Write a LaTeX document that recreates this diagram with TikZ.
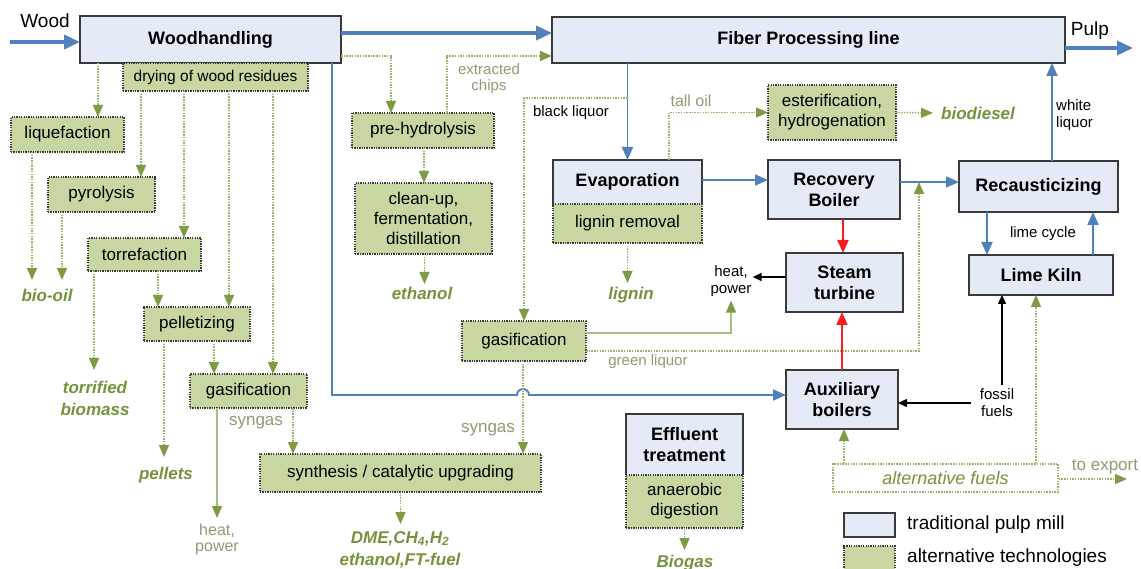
\documentclass[tikz,border=0pt]{standalone}
\usepackage{fontspec}
\setmainfont{Liberation Sans}
\usetikzlibrary{arrows.meta,calc}
\definecolor{tradfill}{HTML}{E4EAF6}
\definecolor{altfill}{HTML}{C8D7A2}
\definecolor{boxdraw}{HTML}{3A3A3A}
\definecolor{lineblue}{HTML}{4F81BD}
\definecolor{altline}{HTML}{9CB16C}
\definecolor{alttip}{HTML}{7F9A45}
\definecolor{prodgreen}{HTML}{76923C}
\definecolor{lblgreen}{HTML}{8F9B74}
\definecolor{solidgreen}{HTML}{A7BD82}
\definecolor{redline}{HTML}{F51E1E}
\tikzset{
  sz/.style 2 args={minimum width=#1pt,minimum height=#2pt},
  trad/.style={draw=boxdraw,line width=1.3pt,fill=tradfill,inner sep=0pt,outer sep=0pt,align=center,font=\fontsize{18}{21}\selectfont\bfseries},
  tradnd/.style={fill=tradfill,inner sep=0pt,outer sep=0pt,align=center,font=\fontsize{18}{21}\selectfont\bfseries},
  alt/.style={draw=boxdraw,line width=1.3pt,dash pattern=on 1.3pt off 1.1pt,fill=altfill,inner sep=0pt,outer sep=0pt,align=center,font=\fontsize{17}{20}\selectfont},
  lbl/.style={font=\fontsize{15}{16}\selectfont,text=lblgreen,inner sep=1pt,align=center},
  lblbig/.style={lbl,font=\fontsize{17}{18}\selectfont},
  blk/.style={font=\fontsize{15}{17}\selectfont,text=black,inner sep=1pt,align=center},
  prod/.style={font=\fontsize{17}{22}\selectfont\bfseries\itshape,text=prodgreen,inner xsep=1pt,align=center,anchor=north},
  mainarr/.style={draw=lineblue,line width=3.6pt,-{Triangle[length=16pt,width=14pt]}},
  bluearr/.style={draw=lineblue,line width=1.9pt,-{Triangle[length=13pt,width=11pt]}},
  redarr/.style={draw=redline,line width=1.9pt,-{Triangle[length=13pt,width=11pt]}},
  blkarr/.style={draw=black,line width=1.4pt,-{Triangle[length=9pt,width=8pt]}},
  altarr/.style={draw=altline,line width=1.5pt,dash pattern=on 1.5pt off 1.2pt,-{Triangle[length=12pt,width=10pt,fill=alttip,color=alttip]}},
  solarr/.style={draw=solidgreen,line width=1.7pt,-{Triangle[length=12pt,width=10pt,fill=alttip,color=alttip]}},
}
\begin{document}
\begin{tikzpicture}[x=1pt,y=-1pt]
\useasboundingbox (0,0) rectangle (1141,569);
\fill[white] (0,0) rectangle (1141,569);

% ---------- traditional boxes ----------
\node[trad,sz={261}{47}] (wh) at (210.5,39.5) {Woodhandling};
\node[trad,sz={513}{46}] (fib) at (808.5,40) {Fiber Processing line};
\node[tradnd,sz={149}{44}] (evap) at (627.5,182) {Evaporation};
\draw[boxdraw,line width=1.3pt] (evap.south west) -- (evap.north west) -- (evap.north east) -- (evap.south east);
\node[trad,sz={132}{59}] (rec) at (834,189.5) {Recovery\\Boiler};
\node[trad,sz={117}{59}] (stm) at (844.5,282.5) {Steam\\turbine};
\node[trad,sz={159}{51}] (rcs) at (1038.5,186.5) {Recausticizing};
\node[trad,sz={144}{40}] (lk) at (1041,275) {Lime Kiln};
\node[trad,sz={112}{59}] (aux) at (842,399.5) {Auxiliary\\boilers};
\node[tradnd,sz={117}{61}] (eff) at (684.5,444.5) {Effluent\\treatment};
\draw[boxdraw,line width=1.3pt] (eff.south west) -- (eff.north west) -- (eff.north east) -- (eff.south east);

% ---------- alternative boxes ----------
\node[alt,sz={185}{28},font=\fontsize{15.5}{17}\selectfont] (dry) at (215.5,77) {drying of wood residues};
\node[alt,sz={113}{35}] (liq) at (67.5,134.5) {liquefaction};
\node[alt,sz={107}{35}] (pyr) at (101.5,194.5) {pyrolysis};
\node[alt,sz={113}{33}] (tor) at (144.5,254.5) {torrefaction};
\node[alt,sz={106}{34}] (pel) at (197,324) {pelletizing};
\node[alt,sz={117}{34}] (gasL) at (248.5,391) {gasification};
\node[alt,sz={281}{38}] (syn) at (400.5,473) {synthesis / catalytic upgrading};
\node[alt,sz={142}{35}] (pre) at (423,130.5) {pre-hydrolysis};
\node[alt,sz={137}{71}] (cln) at (423.5,218.5) {clean-up,\\fermentation,\\distillation};
\node[alt,sz={124}{40}] (gasC) at (524,341) {gasification};
\node[alt,sz={149}{39}] (lig) at (627.5,223.5) {lignin removal};
\node[alt,sz={128}{55}] (est) at (832,112.5) {esterification,\\hydrogenation};
\node[alt,sz={117}{53}] (ana) at (684.5,501.5) {anaerobic\\digestion};
\node[draw=altline,line width=1.4pt,dash pattern=on 1.5pt off 1.2pt,fill=white,inner sep=0pt,sz={225}{28},font=\fontsize{18}{20}\selectfont\itshape,text=prodgreen] (alt) at (945.5,478) {alternative fuels};

% ---------- legend ----------
\node[trad,sz={51}{24}] (legT) at (869.5,525) {};
\node[alt,sz={51}{24}] (legA) at (869.5,558) {};
\node[anchor=west,font=\fontsize{19}{21}\selectfont,inner sep=0pt] (legTt) at (907,525) {traditional pulp mill};
\node[anchor=west,font=\fontsize{19}{21}\selectfont,inner sep=0pt] (legAt) at (907,558) {alternative technologies};

% ---------- texts ----------
\node[font=\fontsize{19}{21}\selectfont,inner sep=0pt] (woodt) at (45,21) {Wood};
\node[font=\fontsize{19}{21}\selectfont,inner sep=0pt] (pulpt) at (1090,31) {Pulp};
\node[lbl] (chips) at (489,79) {extracted\\chips};
\node[blk] (blqt) at (571,113) {black liquor};
\node[lbl,font=\fontsize{16}{17}\selectfont] (tall) at (691,101) {tall oil};
\node[prod,anchor=west] (biod) at (940,113) {biodiesel};
\node[blk,anchor=west,align=left] (wliq) at (1055,115) {white\\liquor};
\node[blk] (lcyc) at (1043,234) {lime cycle};
\node[blk] (heatC) at (731,281) {heat,\\power};
\node[blk] (fossil) at (997,403) {fossil\\fuels};
\node[lblbig] (export) at (1105,467) {to export};
\node[lblbig] (synL) at (256,423) {syngas};
\node[lblbig] (synC) at (488,430) {syngas};
\node[lbl] (gliq) at (648,362) {green liquor};

\node[prod,inner ysep=9pt] (bio) at (47,280) {bio-oil};
\node[prod,inner ysep=11pt] (torb) at (95,370) {torrified\\biomass};
\node[prod,inner ysep=10pt] (pell) at (166,457) {pellets};
\node[lbl,font=\fontsize{16}{16}\selectfont,anchor=north,inner ysep=6pt] (heatL) at (217,518) {heat,\\power};
\node[prod,inner ysep=3pt] (eth) at (422,284) {ethanol};
\node[prod,inner ysep=4pt] (lign) at (631,283) {lignin};
\node[prod,inner ysep=7pt] (dme) at (400,524) {DME,CH\textsubscript{4},H\textsubscript{2}\\ethanol,FT-fuel};
\node[prod,inner ysep=5pt] (biog) at (685,550) {Biogas};

% ---------- coordinates ----------
\coordinate (woodin) at (10,42);
\coordinate (pulpout) at (1133,48);
\coordinate (blq) at (627.5,98);
\coordinate (gl) at (919,182);
\coordinate (hopc) at (523,395);
\coordinate (exp) at (1127,479);

% ---------- blue main flows ----------
\draw[mainarr] (woodin) -- ([yshift=-2.5pt]wh.west);
\draw[mainarr] ([yshift=6.5pt]wh.east) -- ([yshift=6.5pt]wh.east -| fib.west);
\draw[mainarr] ([yshift=-8pt]fib.east) -- (pulpout);
\draw[bluearr] (evap.north |- fib.south) -- (evap.north);
\draw[bluearr] ([yshift=2pt]evap.east) -- ([yshift=2pt]evap.east -| rec.west);
\draw[bluearr] ([yshift=7.5pt]rec.east) -- ([yshift=7.5pt]rec.east -| rcs.west);
\draw[bluearr] ([xshift=13.5pt]rcs.north) -- ([xshift=13.5pt]rcs.north |- fib.south);
\draw[bluearr] ([xshift=-51.5pt]rcs.south) -- ([xshift=-51.5pt]rcs.south |- lk.north);
\draw[bluearr] ([xshift=52pt]lk.north) -- ([xshift=52pt]lk.north |- rcs.south);
\draw[bluearr] ([xshift=121.5pt]wh.south) |- ([xshift=-6pt]hopc) arc[start angle=180,end angle=0,radius=6pt] -- ([yshift=4.5pt]aux.west);

% ---------- red steam ----------
\draw[redarr] ([xshift=9pt]rec.south) -- ([xshift=9pt]rec.south |- stm.north);
\draw[redarr] (aux.north) -- (aux.north |- stm.south);

% ---------- black ----------
\draw[blkarr] ([yshift=5.5pt]stm.west) -- ([yshift=5.5pt]stm.west -| heatC.east);
\draw[blkarr,shorten <=8pt] (fossil.west) -- (fossil.west -| aux.east);
\draw[blkarr,shorten <=3pt] ([xshift=5pt]fossil.north) -- ([xshift=5pt]fossil.north |- lk.south);

% ---------- green dotted ----------
\draw[altarr] ([xshift=-112.5pt]wh.south) -- ([xshift=-112.5pt]wh.south |- liq.north);
\draw[altarr] ([xshift=-74.5pt]dry.south) -- ([xshift=-74.5pt]dry.south |- pyr.north);
\draw[altarr] ([xshift=-31.5pt]dry.south) -- ([xshift=-31.5pt]dry.south |- tor.north);
\draw[altarr] ([xshift=13.5pt]dry.south) -- ([xshift=13.5pt]dry.south |- pel.north);
\draw[altarr] ([xshift=57.5pt]dry.south) -- ([xshift=57.5pt]dry.south |- gasL.north);
\draw[altarr] ([xshift=-35.5pt]liq.south) -- ([xshift=-35.5pt]liq.south |- bio.north);
\draw[altarr] ([xshift=-39.5pt]pyr.south) -- ([xshift=-39.5pt]pyr.south |- bio.north);
\draw[altarr] ([xshift=-50.5pt]tor.south) -- ([xshift=-50.5pt]tor.south |- torb.north);
\draw[altarr] ([xshift=13.5pt]tor.south) -- ([xshift=13.5pt]tor.south |- pel.north);
\draw[altarr] ([xshift=-33pt]pel.south) -- ([xshift=-33pt]pel.south |- pell.north);
\draw[altarr] ([xshift=17pt]pel.south) -- ([xshift=17pt]pel.south |- gasL.north);
\draw[solarr] ([xshift=-31.5pt]gasL.south) -- ([xshift=-31.5pt]gasL.south |- heatL.north);
\draw[altarr] ([xshift=44.5pt]gasL.south) -- ([xshift=44.5pt]gasL.south |- syn.north);
\draw[altarr] (syn.south) -- (syn.south |- dme.north);
\draw[altarr] ([xshift=1pt]pre.south) -- ([xshift=1pt]pre.south |- cln.north);
\draw[altarr] ([xshift=1pt]cln.south) -- ([xshift=1pt]cln.south |- eth.north);
\draw[altarr] ([yshift=-16.5pt]wh.east) -| ([xshift=-32pt]pre.north);
\draw[altarr] ([xshift=24pt]pre.north) |- ([yshift=-16pt]fib.west);
\draw[altarr] (blq) -| (gasC.north);
\draw[altarr] ([xshift=41.5pt]evap.north) |- (est.west);
\draw[altarr,shorten >=7pt] (est.east) -- (biod.west);
\draw[altarr] (lig.south) -- (lig.south |- lign.north);
\draw[solarr,shorten >=3pt] ([yshift=8pt]gasC.east) -| (heatC.south);
\draw[altarr] ([yshift=-10pt]gasC.east) -| (gl);
\draw[altarr] ([xshift=-1pt]gasC.south) -- ([xshift=-1pt]gasC.south |- syn.north);
\draw[altarr] ([xshift=2pt]aux.south |- alt.north) -- ([xshift=2pt]aux.south);
\draw[altarr] ([xshift=-5pt]lk.south |- alt.north) -- ([xshift=-5pt]lk.south);
\draw[altarr] ([yshift=-1pt]alt.east) -- (exp);
\draw[altarr] (ana.south) -- (ana.south |- biog.north);
\end{tikzpicture}
\end{document}
